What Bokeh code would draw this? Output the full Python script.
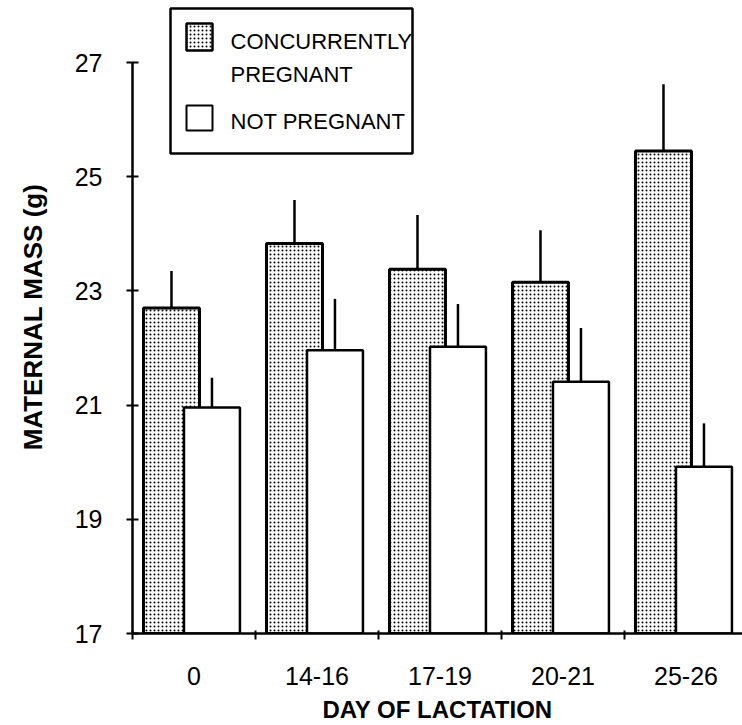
import numpy as np
from bokeh.plotting import figure
from bokeh.models import Range1d, FixedTicker, ColumnDataSource, CustomJSTickFormatter
from bokeh.core.properties import value
from bokeh.embed import file_html
from bokeh.resources import INLINE

# ---------------- data ----------------
days = ["0", "14-16", "17-19", "20-21", "25-26"]
preg_mass = [22.70, 23.83, 23.38, 23.15, 25.45]
preg_se = [0.65, 0.76, 0.95, 0.91, 1.17]
notpreg_mass = [20.96, 21.96, 22.02, 21.41, 19.92]
notpreg_se = [0.52, 0.90, 0.75, 0.94, 0.76]
y_ticks = [17, 19, 21, 23, 25, 27]
legend_labels = ["CONCURRENTLY", "PREGNANT", "NOT PREGNANT"]

# ---------------- layout ----------------
W, H = 742, 725
FL = 132          # frame left (px)
FB = 633          # frame bottom (px from top)
GROUP_PX = 123.0  # pixels per group
UNIT_PX = 57.1    # pixels per gram
X0, X1 = 0.0, (W - FL) / GROUP_PX
Y0, Y1 = 17.0, 17.0 + FB / UNIT_PX

def px2x(px):
    return X0 + (px - FL) / GROUP_PX

def px2y(py):
    return Y0 + (FB - py) / UNIT_PX

FONT = "Liberation Sans"

p = figure(width=W, height=H, x_range=Range1d(X0, X1), y_range=Range1d(Y0, Y1),
           output_backend="svg", toolbar_location=None,
           min_border_left=FL, min_border_right=0, min_border_top=0,
           min_border_bottom=H - FB, outline_line_color=None,
           background_fill_color="white", border_fill_color="white")
p.xgrid.visible = False
p.ygrid.visible = False

idx = np.arange(len(days))
gx = idx + 0.317
wx = idx + 0.646
bw = 0.455

src_p = ColumnDataSource(dict(x=gx, top=preg_mass,
                              err=np.array(preg_mass) + np.array(preg_se)))
src_n = ColumnDataSource(dict(x=wx, top=notpreg_mass,
                              err=np.array(notpreg_mass) + np.array(notpreg_se)))

HATCH = dict(fill_color="white", hatch_pattern="dot", hatch_color="black",
             hatch_scale=4.0, hatch_weight=1.9)

p.vbar(x="x", top="top", bottom=Y0, width=bw, source=src_p,
       line_color="black", line_width=3, **HATCH)
p.segment(x0="x", y0="top", x1="x", y1="err", source=src_p,
          line_color="black", line_width=2.5)
p.vbar(x="x", top="top", bottom=Y0, width=bw, source=src_n,
       fill_color="white", line_color="black", line_width=2.5)
p.segment(x0="x", y0="top", x1="x", y1="err", source=src_n,
          line_color="black", line_width=2.5)

# ---------------- axes ----------------
xa = p.xaxis[0]
xa.ticker = FixedTicker(ticks=list(idx + 0.5), minor_ticks=list(range(len(days) + 1)))
xa.formatter = CustomJSTickFormatter(args=dict(labels=days),
                                     code="const i = Math.floor(tick); return labels[i] || '';")
xa.major_tick_in = 0
xa.major_tick_out = 0
xa.minor_tick_in = 3
xa.minor_tick_out = 6
xa.minor_tick_line_width = 2
xa.axis_line_width = 2.5
xa.major_label_standoff = 27
xa.major_label_text_font = FONT
xa.major_label_text_font_size = "25px"
xa.major_label_text_color = "black"
xa.axis_label = "DAY OF LACTATION"
xa.axis_label_text_font = FONT
xa.axis_label_text_font_style = "bold"
xa.axis_label_text_font_size = "24px"
xa.axis_label_standoff = 8
xa.axis_label_text_color = "black"

ya = p.yaxis[0]
ya.ticker = FixedTicker(ticks=y_ticks, minor_ticks=[])
ya.bounds = (17, 27)
ya.major_tick_in = 6
ya.major_tick_out = 6
ya.major_tick_line_width = 2
ya.axis_line_width = 2.5
ya.major_label_standoff = 24
ya.major_label_text_font = FONT
ya.major_label_text_font_size = "25px"
ya.major_label_text_color = "black"
ya.axis_label = "MATERNAL MASS (g)"
ya.axis_label_text_font = FONT
ya.axis_label_text_font_style = "bold"
ya.axis_label_text_font_size = "26px"
ya.axis_label_standoff = 24
ya.axis_label_text_color = "black"

# ---------------- legend ----------------
p.quad(left=[px2x(170)], right=[px2x(412)], top=[px2y(8)], bottom=[px2y(153)],
       fill_color="white", line_color="black", line_width=2.5)
p.quad(left=[px2x(186)], right=[px2x(212)], top=[px2y(23)], bottom=[px2y(50)],
       line_color="black", line_width=2.5, **HATCH)
p.quad(left=[px2x(186)], right=[px2x(212)], top=[px2y(105)], bottom=[px2y(130)],
       fill_color="white", line_color="black", line_width=2)
leg_src = ColumnDataSource(dict(x=[px2x(230)] * 3,
                                y=[px2y(41), px2y(74), px2y(121)],
                                t=legend_labels))
p.text(x="x", y="y", text="t", source=leg_src, text_font=value(FONT),
       text_font_size="22px", text_baseline="middle", text_align="left",
       text_color="black")

open("out.html", "w").write(file_html(p, INLINE))
